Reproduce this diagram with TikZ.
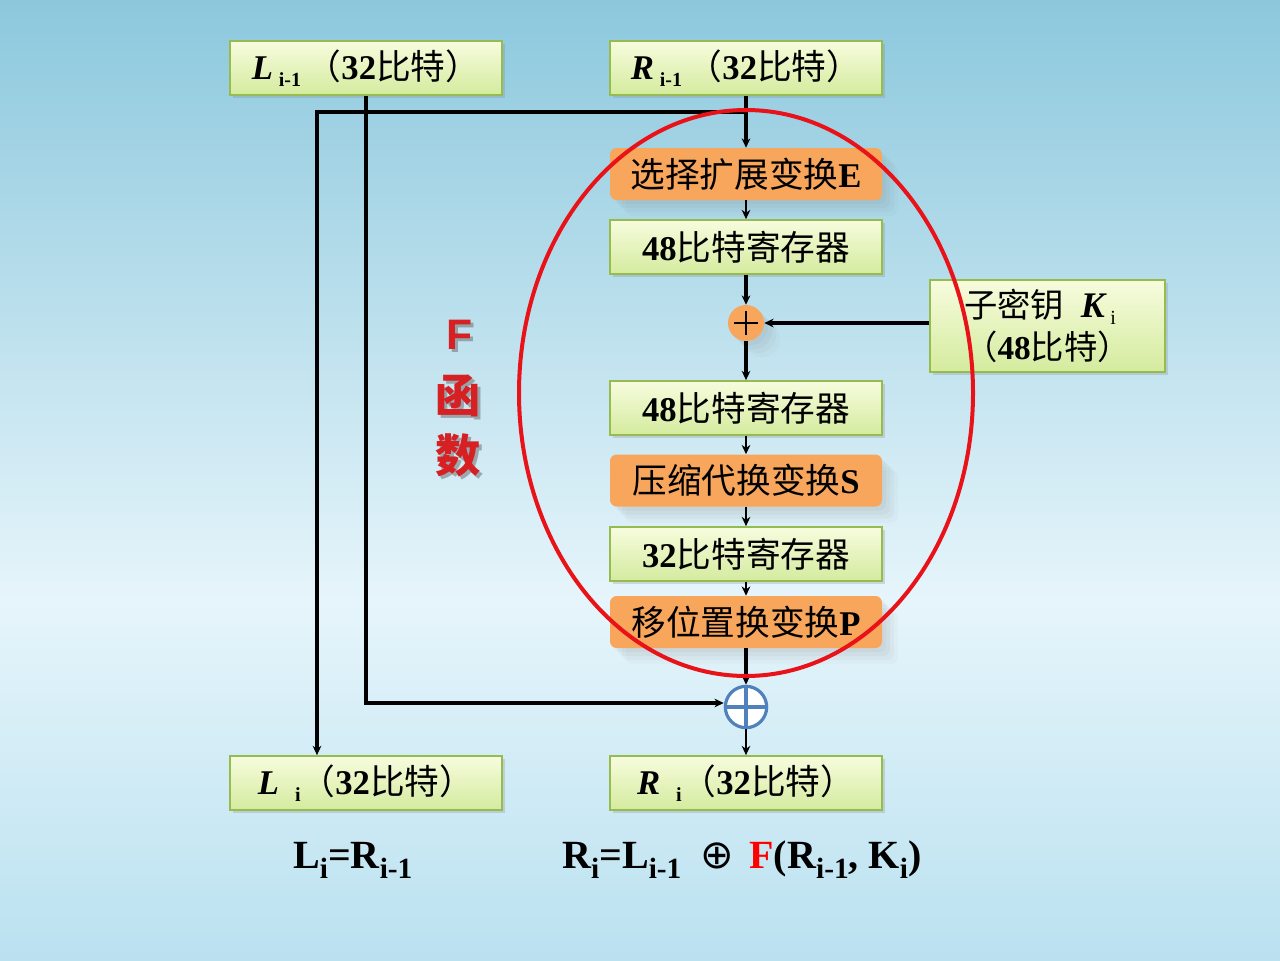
\documentclass[tikz,border=0pt]{standalone}
\usepackage{fontspec}
\setmainfont{Liberation Serif}
\newfontfamily\cjk{Noto Sans CJK SC}[BoldFont={Noto Sans CJK SC}]
\newfontfamily\cjkb{Noto Sans CJK SC}
\newfontfamily\dejavu{DejaVu Sans}
\setsansfont{Liberation Sans}
\usetikzlibrary{shadows,arrows.meta}
\definecolor{bgT}{RGB}{140,200,221}
\definecolor{bgM}{RGB}{230,245,251}
\definecolor{bgC}{RGB}{186,225,240}
\definecolor{gTop}{RGB}{247,252,222}
\definecolor{gBot}{RGB}{212,235,158}
\definecolor{gEdge}{RGB}{150,188,80}
\definecolor{org}{RGB}{248,166,92}
\definecolor{ered}{RGB}{232,18,24}
\definecolor{xblue}{RGB}{79,129,189}
\definecolor{fred}{RGB}{214,32,36}
\definecolor{fred2}{RGB}{255,0,0}
\newcommand{\boxfont}{\fontsize{26}{30}\selectfont\bfseries}
\newcommand{\fmfont}{\fontsize{30}{33}\selectfont\bfseries}
\newcommand{\lsub}[1]{\raisebox{-0.45ex}{\fontsize{15}{15}\selectfont #1}}
\newcommand{\lsubf}[1]{\raisebox{-0.55ex}{\fontsize{22}{22}\selectfont #1}}
\begin{document}
\begin{tikzpicture}[x=0.75pt,y=-0.75pt,
  gbox/.style={draw=gEdge, line width=1.3pt, top color=gTop, bottom color=gBot,
    minimum width=204pt, minimum height=40.5pt, inner sep=0pt, font=\boxfont,
    drop shadow={shadow xshift=2pt,shadow yshift=-2pt,opacity=0.25}},
  softshadow/.style={
    drop shadow={shadow xshift=3pt,shadow yshift=-3pt,opacity=0.07},
    drop shadow={shadow xshift=6pt,shadow yshift=-6pt,opacity=0.07},
    drop shadow={shadow xshift=9pt,shadow yshift=-9pt,opacity=0.06},
    drop shadow={shadow xshift=12pt,shadow yshift=-12pt,opacity=0.04}},
  obox/.style={fill=org, rounded corners=5pt, minimum width=204pt, minimum height=39pt,
    inner sep=0pt, font=\boxfont, softshadow},
  plusc/.style={circle, fill=org, minimum size=27pt, inner sep=0pt, softshadow},
  xorc/.style={circle, draw=xblue, line width=2.4pt, fill=white, minimum size=31pt, inner sep=0pt},
  thk/.style={line width=2.6pt},
  thn/.style={line width=1.8pt},
  arr/.style={-{Stealth[length=7pt,width=6.5pt]}},
  ftext/.style={text=fred, inner sep=0pt},
  fshad/.style={text=black!60, opacity=0.5, inner sep=0pt}
]
\useasboundingbox (0,0) rectangle (1280,960);
\shade[top color=bgT,bottom color=bgM] (0,0) rectangle (1280,600);
\shade[top color=bgM,bottom color=bgC] (0,599) rectangle (1280,960);

% boxes
\node[gbox] (Lp) at (366,68) {{\itshape L}\,\lsub{i-1}\,{\cjk （}32{\cjk 比特）}};
\node[gbox] (Rp) at (746,68) {{\itshape R}\,\lsub{i-1}\,{\cjk （}32{\cjk 比特）}};
\node[obox] (E) at (746,174) {{\cjk 选择扩展变换}E};
\node[gbox] (r1) at (746,247) {48{\cjk 比特寄存器}};
\node[plusc] (pl) at (746,323) {};
\node[gbox, minimum width=176pt, minimum height=69pt, align=left, font=\fontsize{25}{31}\selectfont\bfseries] (K) at (1047.5,326)
  {{\cjk 子密钥}\ \ {\itshape\fontsize{27}{31}\selectfont K}\,\lsub{\mdseries i}\\{\cjk （}48{\cjk 比特）}};
\node[gbox] (r2) at (746,408) {48{\cjk 比特寄存器}};
\node[obox] (S) at (746,480.5) {{\cjk 压缩代换变换}S};
\node[gbox] (r3) at (746,554) {32{\cjk 比特寄存器}};
\node[obox] (P) at (746,622) {{\cjk 移位置换变换}P};
\node[xorc] (x) at (746,707) {};
\node[gbox] (Li) at (366,783) {{\itshape L}\hspace{12pt}\lsub{i}{\cjk （}32{\cjk 比特）}};
\node[gbox] (Ri) at (746,783) {{\itshape R}\hspace{12pt}\lsub{i}{\cjk （}32{\cjk 比特）}};

% plus sign and xor cross
\draw[line width=2pt] ([xshift=-9pt]pl.center) -- ([xshift=9pt]pl.center);
\draw[line width=2pt] ([yshift=-9pt]pl.center) -- ([yshift=9pt]pl.center);
\draw[xblue, line width=2.4pt] (x.north) -- (x.south);
\draw[xblue, line width=2.4pt] (x.west) -- (x.east);

% connectors
\coordinate (br) at (746,112);
\coordinate (bl) at (317,112);
\coordinate (lc) at (366,703);
\draw[thk,arr] (Rp.south) -- (E.north);
\draw[thk,arr] (br) -- (bl) -- (bl |- Li.north);
\draw[thk,arr] (Lp.south) -- (lc) -- (x.west |- lc);
\draw[thn,arr] (E.south) -- (r1.north);
\draw[thk,arr] (r1.south) -- (pl.north);
\draw[thk,arr] (K.west |- pl.east) -- (pl.east);
\draw[thk,arr] (pl.south) -- (r2.north);
\draw[thn,arr] (r2.south) -- (S.north);
\draw[thn,arr] (S.south) -- (r3.north);
\draw[thn,arr] (r3.south) -- (P.north);
\draw[thk,arr] (P.south) -- (x.north);
\draw[thn,arr] (x.south) -- (Ri.north);

% F function ellipse
\draw[ered, line width=3pt] (746,393) ellipse [x radius=227, y radius=283];

% F label
\node[fshad, font=\fontsize{32}{32}\selectfont\sffamily\bfseries] (Fs) at (463,338) {F};
\node[ftext, font=\fontsize{32}{32}\selectfont\sffamily\bfseries] (F) at (460,335) {F};
\node[fshad, font=\fontsize{34}{34}\selectfont\cjkb\bfseries] (Hs) at (461,399) {函};
\node[ftext, font=\fontsize{34}{34}\selectfont\cjkb\bfseries] (H) at (458,396) {函};
\node[fshad, font=\fontsize{34}{34}\selectfont\cjkb\bfseries] (Ss) at (461,458) {数};
\node[ftext, font=\fontsize{34}{34}\selectfont\cjkb\bfseries] (Sh) at (458,455) {数};

% formulas
\node[font=\fmfont, anchor=west, inner sep=0pt] (eq1) at (293,860) {L\lsubf{i}=R\lsubf{i-1}};
\node[font=\fmfont, anchor=west, inner sep=0pt] (eq2) at (562,860)
  {R\lsubf{i}=L\lsubf{i-1}\hspace{14pt}{\dejavu\mdseries ⊕}\hspace{12pt}{\color{fred2}F}(R\lsubf{i-1}, K\lsubf{i})};
\end{tikzpicture}
\end{document}
